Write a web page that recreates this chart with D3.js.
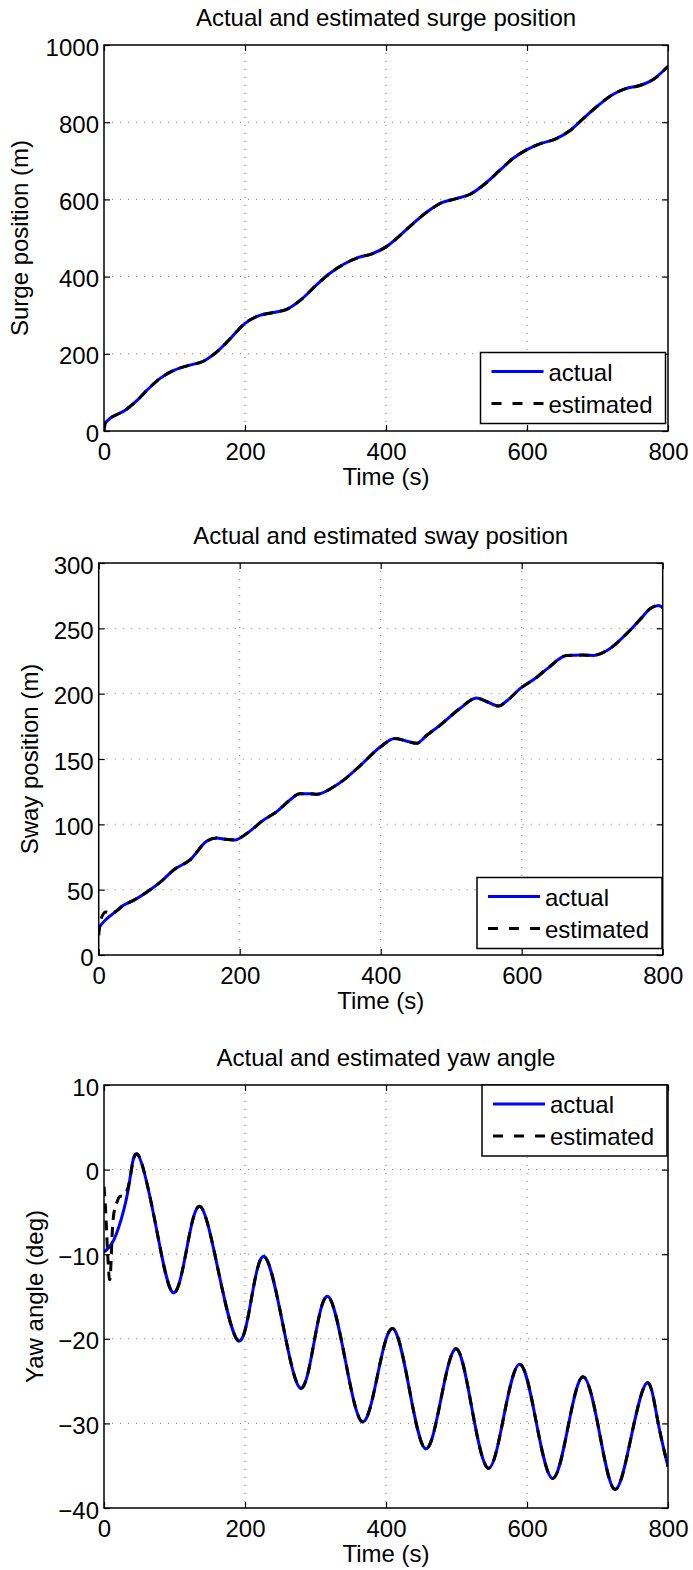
<!DOCTYPE html>
<html>
<head>
<meta charset="utf-8">
<script src="https://cdn.jsdelivr.net/npm/d3@7"></script>
<style>
  body { margin: 0; background: #fff; }
  svg { display: block; }
</style>
</head>
<body>
<div id="chart"></div>
<script>
// ---- data ----
const timeTicks = [0, 200, 400, 600, 800];

// surge position (m)
const surgeT = [0, 10, 20, 30, 45, 60, 80, 100, 120, 140, 160, 180, 200, 220, 240, 260, 280, 300, 320, 340,
    360, 380, 400, 420, 440, 460, 480, 500, 520, 540, 560, 580, 600, 620, 640, 660, 680, 700, 720, 740, 760, 780, 800];
const surgeActual = [18, 35, 44, 54, 76, 104, 137, 158, 170, 180, 205, 241, 279, 299, 307, 316, 341, 376, 408, 432,
    449, 459, 477, 507, 540, 570, 592, 602, 614, 640, 673, 706, 729, 745, 756, 777, 810, 842, 870, 887, 895, 912, 945];
const surgeEstStartT = [0, 2, 4, 7];
const surgeEstStart = [0, 22, 30, 33];
const surgeTicks = [0, 200, 400, 600, 800, 1000];

// sway position (m)
const swayT = [0, 10, 20, 35, 50, 73, 90, 106, 130, 153, 167, 180, 193, 210, 233, 252, 271, 285, 300, 309,
    333, 350, 371, 399, 420, 435, 451, 465, 484, 512, 536, 550, 567, 580, 598, 620, 636, 664, 685, 702,
    721, 749, 770, 782, 794, 800];
const swayActual = [21, 27, 31.5, 38, 42, 50, 57, 65, 73, 87, 89.5, 88.5, 88, 93, 103, 109.5, 118.5, 123.5, 123.5, 123,
    128.6, 135, 145, 159, 165.6, 164, 162, 168, 175.7, 188.5, 196.6, 194, 190.5, 195, 204, 212, 219, 229.3, 229.5, 229.3,
    233, 246, 258, 265, 267.5, 266];
const swayEstStartT = [0, 2, 5, 10, 18, 25];
const swayEstStart = [15, 24, 30, 33, 32, 33.5];
const swayTicks = [0, 50, 100, 150, 200, 250, 300];

// yaw angle (deg)
const yawT = [0, 14, 28, 37, 48.7, 73, 97, 117, 137, 163, 190, 209, 228, 253, 278, 298, 318, 342, 366, 388,
    410, 433, 456, 478, 500, 522, 545, 567, 590, 613, 636, 658, 680, 703, 725, 748, 770, 785, 800];
const yawActual = [-9.75, -8.3, -4.8, -1, 1.7, -6.4, -14.5, -9.5, -4.4, -12.3, -20.2, -15.3, -10.3, -18, -25.8, -20.4, -15, -22.4, -29.8, -24.3,
    -18.8, -25.9, -33, -27.1, -21.2, -28.3, -35.3, -29.2, -23, -29.8, -36.5, -30.5, -24.5, -31.2, -37.8, -31.5, -25.2, -29.5, -35.1];
const yawEstStartT = [0, 3, 8, 12, 17, 22, 29];
const yawEstStart = [-2, -6, -13, -7, -4.2, -3.2, -3];
const yawTicks = [-40, -30, -20, -10, 0, 10];

const seriesNames = ["actual", "estimated"];

// ---- helpers ----
const FONT = "'Liberation Sans', Arial, Helvetica, sans-serif";
const W = 693, H = 1570;

const zip = (ts, vs) => ts.map((t, i) => [t, vs[i]]);
// estimated follows the actual trace once the transient has gone
const estimated = (st, sv, at, av) => {
    const start = zip(st, sv);
    const last = st[st.length - 1];
    return start.concat(zip(at, av).filter(d => d[0] > last));
};
const fmt = d => d < 0 ? "\u2212" + Math.abs(d) : String(d);

const svg = d3.select("#chart").append("svg")
    .attr("width", W).attr("height", H)
    .style("font-family", FONT);
svg.append("rect").attr("width", W).attr("height", H).attr("fill", "#fff");

function drawPanel(p, idx) {
    let x = d3.scaleLinear().domain([0, 800]).range([p.left, p.right]);
    let y = d3.scaleLinear().domain(p.yDomain).range([p.bottom, p.top]);
    let g = svg.append("g");

    // grid
    let grid = g.append("g")
        .attr("stroke", "#7a7a7a")
        .attr("stroke-width", 1)
        .attr("stroke-dasharray", "1,7");
    grid.selectAll(".vx")
        .data(timeTicks.slice(1, -1))
        .join("line")
        .attr("x1", d => x(d)).attr("x2", d => x(d))
        .attr("y1", p.top).attr("y2", p.bottom);
    grid.selectAll(".hy")
        .data(p.yTicks.slice(1, -1))
        .join("line")
        .attr("x1", p.left).attr("x2", p.right)
        .attr("y1", d => y(d)).attr("y2", d => y(d));

    // traces
    let clipId = "clip" + idx;
    g.append("clipPath").attr("id", clipId)
        .append("rect")
        .attr("x", p.left).attr("y", p.top)
        .attr("width", p.right - p.left).attr("height", p.bottom - p.top);

    let line = d3.line()
        .x(d => x(d[0]))
        .y(d => y(d[1]))
        .curve(p.curve);

    let traces = g.append("g").attr("clip-path", `url(#${clipId})`);
    traces.append("path")
        .datum(p.actual)
        .attr("d", line)
        .attr("fill", "none")
        .attr("stroke", "#0000ff")
        .attr("stroke-width", 3);
    traces.append("path")
        .datum(p.estimated)
        .attr("d", line)
        .attr("fill", "none")
        .attr("stroke", "#000")
        .attr("stroke-width", 3)
        .attr("stroke-dasharray", "10,7");

    // axes: ticks inward on all four sides
    let axB = g.append("g").attr("transform", `translate(0,${p.bottom})`)
        .call(d3.axisBottom(x).tickValues(timeTicks).tickSize(-6).tickFormat(fmt));
    let axT = g.append("g").attr("transform", `translate(0,${p.top})`)
        .call(d3.axisTop(x).tickValues(timeTicks).tickSize(-6).tickFormat(""));
    let axL = g.append("g").attr("transform", `translate(${p.left},0)`)
        .call(d3.axisLeft(y).tickValues(p.yTicks).tickSize(-6).tickFormat(fmt));
    let axR = g.append("g").attr("transform", `translate(${p.right},0)`)
        .call(d3.axisRight(y).tickValues(p.yTicks).tickSize(-6).tickFormat(""));

    [axB, axT, axL, axR].forEach(a => {
        a.select(".domain").remove();
        a.selectAll(".tick line").attr("stroke", "#000").attr("stroke-width", 1.2);
    });
    axB.selectAll("text")
        .attr("dy", null).attr("y", 29)
        .attr("font-size", 24).attr("font-family", FONT).attr("fill", "#000");
    axL.selectAll("text")
        .attr("dy", null).attr("x", -5).attr("y", 10)
        .attr("font-size", 24).attr("font-family", FONT).attr("fill", "#000");

    g.append("rect")
        .attr("x", p.left).attr("y", p.top)
        .attr("width", p.right - p.left).attr("height", p.bottom - p.top)
        .attr("fill", "none").attr("stroke", "#000").attr("stroke-width", 1.5);

    // text
    g.append("text")
        .attr("x", (p.left + p.right) / 2).attr("y", p.top - 19)
        .attr("text-anchor", "middle").attr("font-size", 24)
        .text(p.title);
    g.append("text")
        .attr("x", (p.left + p.right) / 2).attr("y", p.bottom + 54)
        .attr("text-anchor", "middle").attr("font-size", 24)
        .text("Time (s)");
    g.append("text")
        .attr("transform", `translate(${p.yLabelX},${(p.top + p.bottom) / 2}) rotate(-90)`)
        .attr("text-anchor", "middle").attr("font-size", 24)
        .text(p.yLabel);

    // legend
    let lg = g.append("g").attr("transform", `translate(${p.legend[0]},${p.legend[1]})`);
    lg.append("rect")
        .attr("width", 185).attr("height", 71)
        .attr("fill", "#fff").attr("stroke", "#000").attr("stroke-width", 1.5);
    seriesNames.forEach((name, i) => {
        let ly = 19 + i * 32;
        lg.append("line")
            .attr("x1", 11).attr("x2", 63).attr("y1", ly).attr("y2", ly)
            .attr("stroke", i === 0 ? "#0000ff" : "#000")
            .attr("stroke-width", 3)
            .attr("stroke-dasharray", i === 0 ? null : "10,11");
        lg.append("text")
            .attr("x", 68).attr("y", ly + 9)
            .attr("font-size", 24)
            .text(name);
    });
}

const panels = [
    {
        left: 104, right: 668, top: 45, bottom: 431,
        yDomain: [0, 1000], yTicks: surgeTicks,
        title: "Actual and estimated surge position",
        yLabel: "Surge position (m)", yLabelX: 28,
        actual: zip(surgeT, surgeActual),
        estimated: estimated(surgeEstStartT, surgeEstStart, surgeT, surgeActual),
        curve: d3.curveMonotoneX,
        legend: [480.5, 352.5]
    },
    {
        left: 98.7, right: 662.7, top: 563, bottom: 955,
        yDomain: [0, 300], yTicks: swayTicks,
        title: "Actual and estimated sway position",
        yLabel: "Sway position (m)", yLabelX: 38,
        actual: zip(swayT, swayActual),
        estimated: estimated(swayEstStartT, swayEstStart, swayT, swayActual),
        curve: d3.curveMonotoneX,
        legend: [477, 877.5]
    },
    {
        left: 104, right: 668, top: 1085, bottom: 1508,
        yDomain: [-40, 10], yTicks: yawTicks,
        title: "Actual and estimated yaw angle",
        yLabel: "Yaw angle (deg)", yLabelX: 43,
        actual: zip(yawT, yawActual),
        estimated: estimated(yawEstStartT, yawEstStart, yawT, yawActual),
        curve: d3.curveNatural,
        legend: [482, 1085]
    }
];

panels.forEach((p, i) => drawPanel(p, i));
</script>
</body>
</html>
